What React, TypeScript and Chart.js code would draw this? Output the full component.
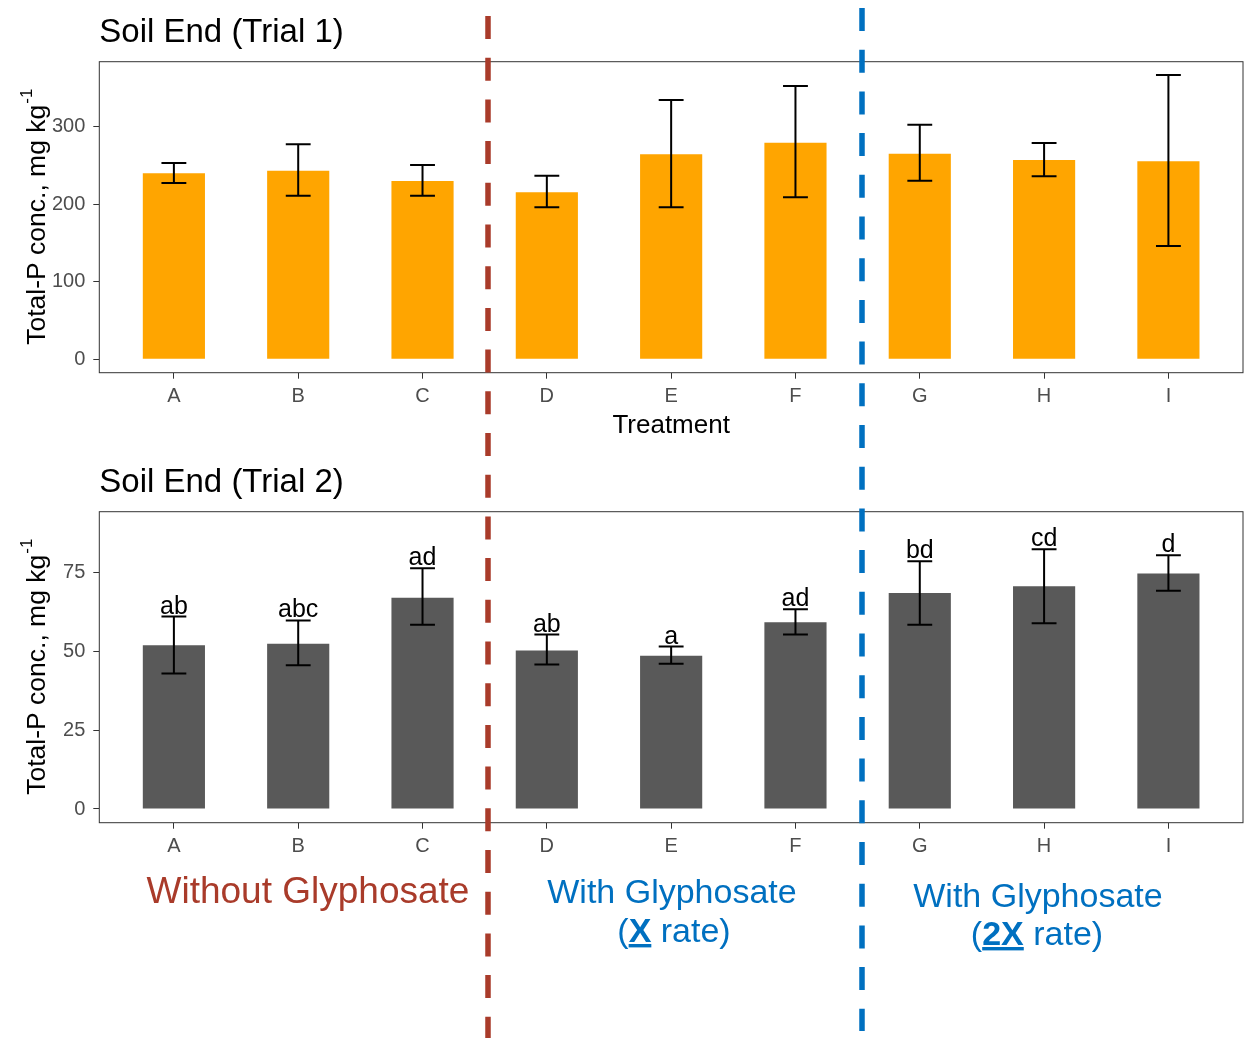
import React, { useEffect, useRef } from 'react';
import { Chart, registerables } from 'chart.js';

Chart.register(...registerables);

const FONT = "'Liberation Sans', Arial, Helvetica, sans-serif";

// ---- data ----
const treatments = ['A', 'B', 'C', 'D', 'E', 'F', 'G', 'H', 'I'];

const trial1Mean = [239.9, 243.3, 230.0, 215.4, 264.4, 279.4, 265.2, 257.1, 255.4];
const trial1Low = [227.4, 211.0, 211.0, 196.1, 196.1, 209.0, 230.4, 236.0, 146.1];
const trial1High = [253.2, 277.3, 250.6, 236.8, 334.5, 352.5, 302.6, 279.0, 366.7];
const trial1Ticks = [0, 100, 200, 300];

const trial2Mean = [51.8, 52.3, 66.9, 50.2, 48.5, 59.1, 68.4, 70.5, 74.5];
const trial2Low = [42.9, 45.5, 58.3, 45.7, 46.0, 55.2, 58.3, 58.8, 69.1];
const trial2High = [60.9, 59.7, 76.2, 55.2, 51.4, 63.2, 78.4, 82.2, 80.3];
const trial2Letters = ['ab', 'abc', 'ad', 'ab', 'a', 'ad', 'bd', 'cd', 'd'];
const trial2Ticks = [0, 25, 50, 75];

type PanelCfg = {
  title: string;
  mean: number[];
  low: number[];
  high: number[];
  ticks: number[];
  ymin: number;
  ymax: number;
  color: string;
  xTitle?: string;
  letters?: string[];
};

const panel1: PanelCfg = {
  title: 'Soil End (Trial 1)',
  mean: trial1Mean,
  low: trial1Low,
  high: trial1High,
  ticks: trial1Ticks,
  ymin: -17.3,
  ymax: 383.8,
  color: '#FFA500',
  xTitle: 'Treatment',
};

const panel2: PanelCfg = {
  title: 'Soil End (Trial 2)',
  mean: trial2Mean,
  low: trial2Low,
  high: trial2High,
  ticks: trial2Ticks,
  ymin: -4.34,
  ymax: 94.1,
  color: '#595959',
  letters: trial2Letters,
};

function buildConfig(cfg: PanelCfg): any {
  const data = cfg.mean.map((v, i) => ({ x: i + 1, y: v }));
  const panelPlugin = {
    id: 'panelDecor',
    afterDatasetsDraw(chart: any) {
      const { ctx, chartArea: a, scales } = chart;
      const xs = scales.x;
      const ys = scales.y;
      ctx.save();
      // error bars
      ctx.strokeStyle = '#000';
      ctx.lineWidth = 2;
      for (let i = 0; i < cfg.mean.length; i++) {
        const px = xs.getPixelForValue(i + 1);
        const hw = xs.getPixelForValue(i + 1.1) - px;
        const yt = ys.getPixelForValue(cfg.high[i]);
        const yb = ys.getPixelForValue(cfg.low[i]);
        ctx.beginPath();
        ctx.moveTo(px, yt);
        ctx.lineTo(px, yb);
        ctx.moveTo(px - hw, yt);
        ctx.lineTo(px + hw, yt);
        ctx.moveTo(px - hw, yb);
        ctx.lineTo(px + hw, yb);
        ctx.stroke();
        if (cfg.letters) {
          ctx.font = `25px ${FONT}`;
          ctx.fillStyle = '#000';
          ctx.textAlign = 'center';
          ctx.textBaseline = 'alphabetic';
          ctx.fillText(cfg.letters[i], px, yt - 3);
        }
      }
      // frame
      ctx.strokeStyle = '#333333';
      ctx.lineWidth = 1;
      ctx.strokeRect(a.left, a.top, a.right - a.left, a.bottom - a.top);
      // title
      ctx.fillStyle = '#000';
      ctx.font = `33px ${FONT}`;
      ctx.textAlign = 'left';
      ctx.textBaseline = 'alphabetic';
      ctx.fillText(cfg.title, a.left, a.top - 20);
      // x title
      if (cfg.xTitle) {
        ctx.font = `26px ${FONT}`;
        ctx.textAlign = 'center';
        ctx.fillText(cfg.xTitle, (a.left + a.right) / 2, a.bottom + 60.6);
      }
      // y title with superscript
      const cy = (a.top + a.bottom) / 2;
      ctx.translate(45, cy);
      ctx.rotate(-Math.PI / 2);
      const main = 'Total-P conc., mg kg';
      const sup = '-1';
      ctx.font = `26.5px ${FONT}`;
      const w1 = ctx.measureText(main).width;
      ctx.font = `17px ${FONT}`;
      const w2 = ctx.measureText(sup).width;
      const start = -(w1 + w2) / 2;
      ctx.textAlign = 'left';
      ctx.font = `26.5px ${FONT}`;
      ctx.fillText(main, start, 0);
      ctx.font = `17px ${FONT}`;
      ctx.fillText(sup, start + w1 + 1, -13);
      ctx.restore();
    },
  };

  return {
    type: 'bar',
    data: {
      datasets: [
        {
          data,
          backgroundColor: cfg.color,
          borderWidth: 0,
          categoryPercentage: 1,
          barPercentage: 0.5,
        },
      ],
    },
    options: {
      responsive: false,
      animation: false,
      events: [],
      layout: { padding: { left: 0, right: 8, top: 61.7, bottom: 0 } },
      plugins: { legend: { display: false }, tooltip: { enabled: false }, title: { display: false } },
      scales: {
        x: {
          type: 'linear',
          min: 0.4,
          max: 9.6,
          offset: false,
          afterBuildTicks: (s: any) => {
            s.ticks = treatments.map((_, i) => ({ value: i + 1 }));
          },
          afterFit: (s: any) => {
            s.height = 450 - 372.7;
          },
          ticks: {
            callback: (v: any) => treatments[Math.round(Number(v)) - 1] ?? '',
            font: { size: 20, family: FONT },
            color: '#4D4D4D',
            padding: 6,
            maxRotation: 0,
            autoSkip: false,
          },
          grid: { drawOnChartArea: false, offset: false, tickLength: 6, color: '#333333' },
          border: { display: false },
        },
        y: {
          min: cfg.ymin,
          max: cfg.ymax,
          afterBuildTicks: (s: any) => {
            s.ticks = cfg.ticks.map((v) => ({ value: v }));
          },
          afterFit: (s: any) => {
            s.width = 99.3;
          },
          ticks: {
            font: { size: 20, family: FONT },
            color: '#4D4D4D',
            padding: 8,
          },
          grid: { drawOnChartArea: false, tickLength: 6, color: '#333333' },
          border: { display: false },
        },
      },
    },
    plugins: [panelPlugin],
  };
}

function Panel({ cfg, top }: { cfg: PanelCfg; top: number }) {
  const ref = useRef<HTMLCanvasElement>(null);
  useEffect(() => {
    const chart = new Chart(ref.current as HTMLCanvasElement, buildConfig(cfg));
    return () => chart.destroy();
  }, [cfg]);
  return (
    <canvas
      ref={ref}
      width={1251}
      height={450}
      style={{ position: 'absolute', left: 0, top, width: 1251, height: 450 }}
    />
  );
}

const RED = '#A93B2A';
const BLUE = '#0070C0';

export default function App() {
  return (
    <div style={{ position: 'absolute', left: 0, top: 0, width: 1251, height: 1038, background: '#fff', overflow: 'hidden' }}>
      <Panel cfg={panel1} top={0} />
      <Panel cfg={panel2} top={450} />
      <svg
        width={1251}
        height={1038}
        style={{ position: 'absolute', left: 0, top: 0, pointerEvents: 'none' }}
        fontFamily={FONT}
      >
        <line x1={488} y1={16} x2={488} y2={1038} stroke={RED} strokeWidth={5.5} strokeDasharray="23 18.7" />
        <line x1={862} y1={8} x2={862} y2={1031} stroke={BLUE} strokeWidth={5.5} strokeDasharray="23 18.7" />
        <text x={308} y={903} textAnchor="middle" fontSize={37} fill={RED}>
          Without Glyphosate
        </text>
        <text x={672} y={903} textAnchor="middle" fontSize={34} fill={BLUE}>
          With Glyphosate
        </text>
        <text x={674} y={942} textAnchor="middle" fontSize={34} fill={BLUE}>
          (<tspan fontWeight="bold" style={{ textDecoration: 'underline' }}>X</tspan> rate)
        </text>
        <text x={1038} y={907} textAnchor="middle" fontSize={34} fill={BLUE}>
          With Glyphosate
        </text>
        <text x={1037} y={945} textAnchor="middle" fontSize={34} fill={BLUE}>
          (<tspan fontWeight="bold" style={{ textDecoration: 'underline' }}>2X</tspan> rate)
        </text>
      </svg>
    </div>
  );
}
